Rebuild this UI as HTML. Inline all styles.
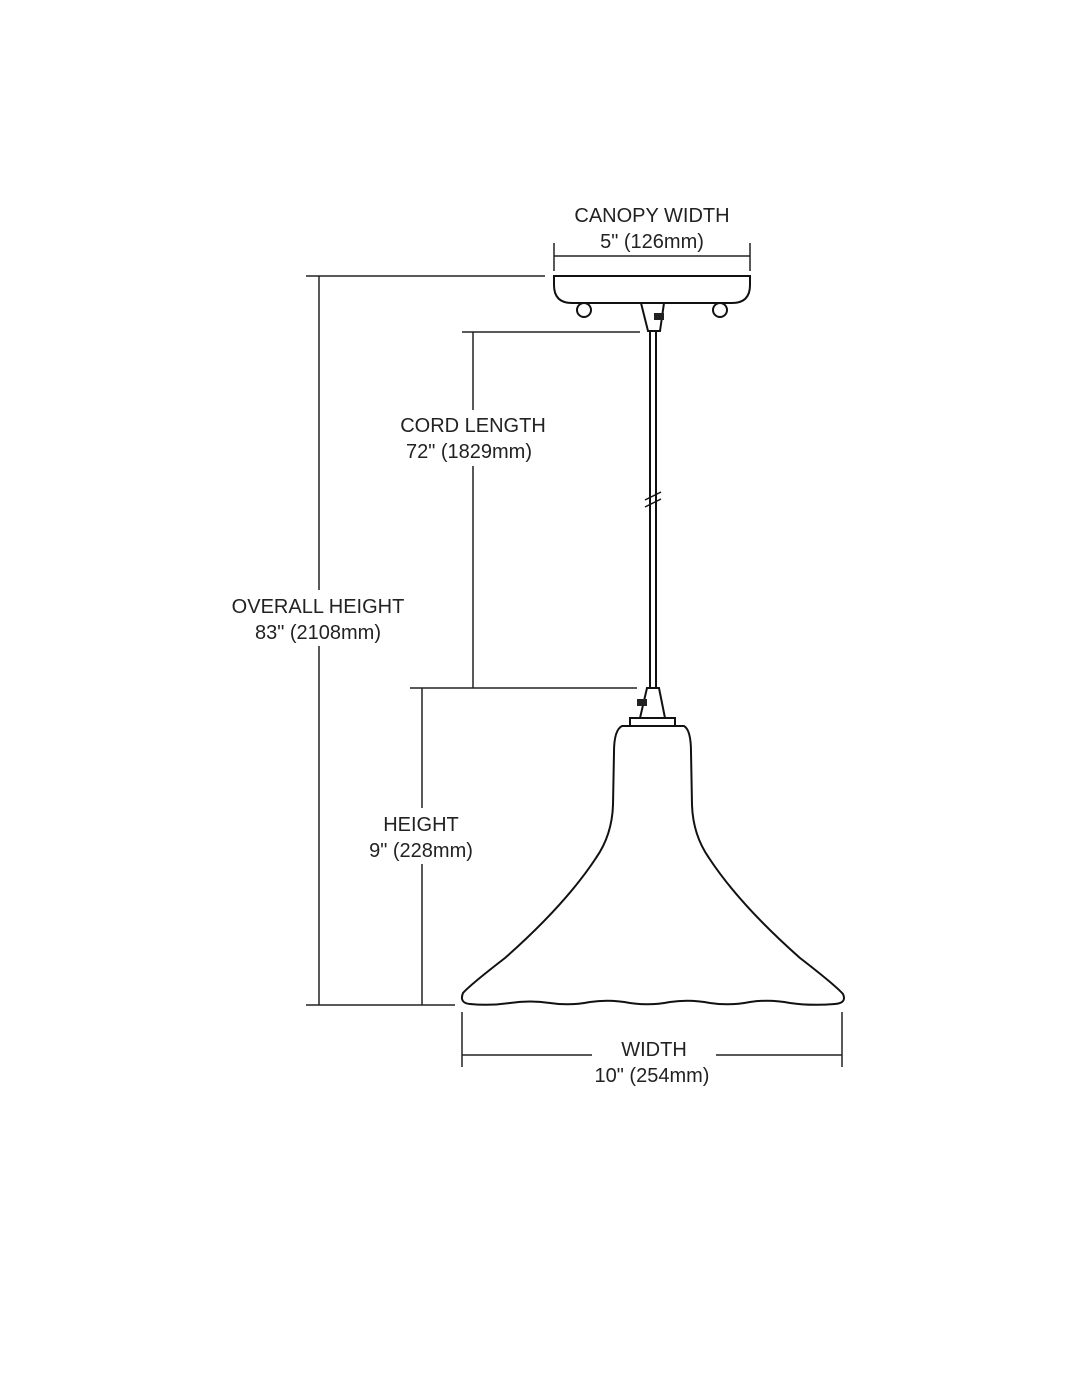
<!DOCTYPE html>
<html><head><meta charset="utf-8"><style>
html,body{margin:0;padding:0;background:#fff;}
svg{display:block;}
text{font-family:"Liberation Sans",Arial,sans-serif;font-size:20px;fill:#222;text-anchor:middle;}
</style></head><body>
<svg width="1080" height="1398" viewBox="0 0 1080 1398" xmlns="http://www.w3.org/2000/svg">
<g stroke="#222" stroke-width="1.5" fill="none">
<line x1="554" y1="243" x2="554" y2="271"/>
<line x1="750" y1="243" x2="750" y2="271"/>
<line x1="554" y1="256" x2="750" y2="256"/>
<line x1="306" y1="276" x2="545" y2="276"/>
<line x1="306" y1="1005" x2="455" y2="1005"/>
<line x1="319" y1="276" x2="319" y2="1005"/>
<line x1="462" y1="332" x2="640" y2="332"/>
<line x1="410" y1="688" x2="637" y2="688"/>
<line x1="473" y1="332" x2="473" y2="688"/>
<line x1="422" y1="688" x2="422" y2="1005"/>
<line x1="462" y1="1012" x2="462" y2="1067"/>
<line x1="842" y1="1012" x2="842" y2="1067"/>
<line x1="462" y1="1055" x2="592" y2="1055"/>
<line x1="716" y1="1055" x2="842" y2="1055"/>
</g>
<g stroke="#111" stroke-width="2" fill="#fff">
<path d="M554 276 L750 276 L750 285 Q750 303 732 303 L572 303 Q554 303 554 285 Z"/>
<circle cx="584" cy="310" r="7"/>
<circle cx="720" cy="310" r="7"/>
<path d="M641 303 L664 303 L660 331 L648 331 Z"/>
<line x1="650" y1="331" x2="650" y2="688"/>
<line x1="656" y1="331" x2="656" y2="688"/>
<path d="M645 500 L661 492 M645 507 L661 499" stroke-width="1.5"/>
<path d="M647 688 L659 688 L665 718 L640 718 Z"/>
<rect x="630" y="718" width="45" height="8"/>
<path d="M622 726 Q614 730 614 752 L613 805 Q612 835 596 858 Q565 905 505 958 Q470 985 463 993 Q459 1003 470 1004
Q490 1006 510 1003 Q530 1000 550 1003 Q570 1006 590 1002 Q610 999 630 1003 Q650 1006 670 1002 Q690 999 710 1003 Q730 1006 750 1002 Q770 999 790 1003 Q810 1006 835 1004 Q847 1003 843 994
Q835 985 800 958 Q740 905 709 858 Q693 835 692 805 L691 752 Q691 730 684 726 Z"/>
</g>
<rect x="654" y="313" width="10" height="7" fill="#222"/>
<rect x="637" y="699" width="10" height="7" fill="#222"/>
<text x="652" y="222">CANOPY WIDTH</text>
<text x="652" y="248">5" (126mm)</text>
<rect x="395" y="410" width="160" height="56" fill="#fff"/>
<text x="473" y="432">CORD LENGTH</text>
<text x="469" y="458">72" (1829mm)</text>
<rect x="225" y="590" width="186" height="56" fill="#fff"/>
<text x="318" y="613">OVERALL HEIGHT</text>
<text x="318" y="639">83" (2108mm)</text>
<rect x="365" y="808" width="115" height="56" fill="#fff"/>
<text x="421" y="831">HEIGHT</text>
<text x="421" y="857">9" (228mm)</text>
<text x="654" y="1056">WIDTH</text>
<text x="652" y="1082">10" (254mm)</text>
</svg>
</body></html>
